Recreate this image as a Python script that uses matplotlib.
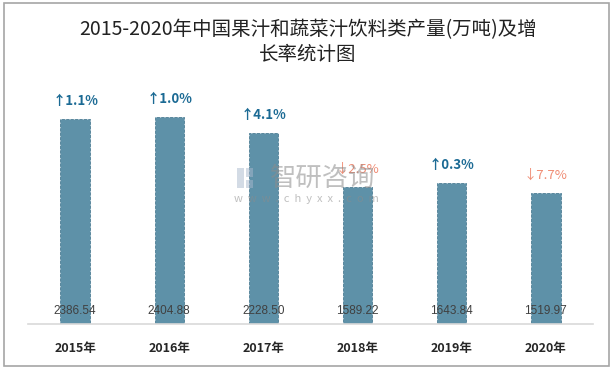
import matplotlib
matplotlib.use('Agg')
import matplotlib.pyplot as plt
from matplotlib.patches import Rectangle

plt.rcParams['font.family'] = ['Noto Sans CJK SC', 'DejaVu Sans']

years = ['2015年', '2016年', '2017年', '2018年', '2019年', '2020年']
output = [2386.54, 2404.88, 2228.50, 1589.22, 1643.84, 1519.97]
growth = [1.1, 1.0, 4.1, -2.5, 0.3, -7.7]

fig = plt.figure(figsize=(6.15, 3.71), dpi=100)
ax = fig.add_axes([28/615, 1-324/371, (593-28)/615, (324-80)/371])

ind = range(len(years))
ax.bar(ind, output, width=0.31, color='#5E91A8', edgecolor='#4C7D94',
       linewidth=0.6, linestyle='--')
ax.set_xlim(-0.5, len(years)-0.5)
ax.set_ylim(0, 2840)
ax.set_yticks([])
ax.set_xticks(list(ind))
ax.set_xticklabels(years, fontsize=9, fontweight='bold', color='#262626')
ax.tick_params(axis='x', length=0, pad=13)
for s in ['top', 'right', 'left']:
    ax.spines[s].set_visible(False)
ax.spines['bottom'].set_color('#D9D9D9')
ax.spines['bottom'].set_linewidth(1.2)

for i, v in enumerate(output):
    ax.annotate('%.2f' % v, (i, 0), xytext=(0, 13), textcoords='offset pixels',
                ha='center', va='center', fontsize=8.5, color='#404040',
                family=['Liberation Sans', 'DejaVu Sans'])

for i, g in enumerate(growth):
    if g >= 0:
        txt, col, w = '↑%.1f%%' % g, '#1B6A94', 'bold'
    else:
        txt, col, w = '↓%.1f%%' % abs(g), '#F08C74', 'normal'
    ax.annotate(txt, (i, output[i]), xytext=(0, 18), textcoords='offset pixels',
                ha='center', va='center', fontsize=9.5, color=col, fontweight=w)

# watermark
fig.text(323/615, 1-178/371, '智研咨询', ha='center', va='center', fontsize=19,
         color='#8C8C8C', alpha=0.55)
fig.text(306/615, 1-199/371, 'w  w  w  .  c  h  y  x  x  .  c  o  m', ha='center',
         va='center', fontsize=8, color='#8C8C8C', alpha=0.55)
for x0, y0, w0, h0 in [(237, 168, 7, 20), (246, 168, 7, 9), (246, 180, 7, 8)]:
    fig.patches.append(Rectangle((x0/615, 1-(y0+h0)/371), w0/615, h0/371,
                                 transform=fig.transFigure, color='#A9B8CC',
                                 alpha=0.5, linewidth=0))

fig.text(308/615, 1-30/371, '2015-2020年中国果汁和蔬菜汁饮料类产量(万吨)及增',
         ha='center', va='center', fontsize=14, color='#222222')
fig.text(308/615, 1-54/371, '长率统计图', ha='center', va='center',
         fontsize=14, color='#222222')

fig.patches.append(Rectangle((4/615, 1-366/371), 605/615, 363/371,
                             transform=fig.transFigure, fill=False,
                             edgecolor='#A6A6A6', linewidth=1.2))

plt.savefig('out.png', dpi=100)
